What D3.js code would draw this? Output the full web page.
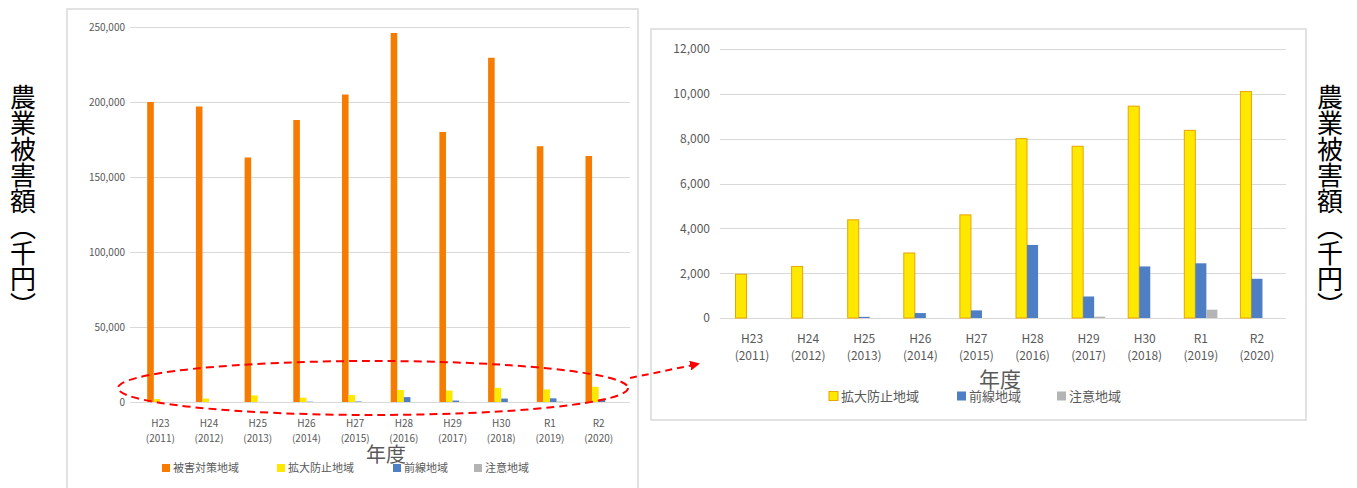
<!DOCTYPE html>
<html>
<head>
<meta charset="utf-8">
<script src="https://cdn.jsdelivr.net/npm/d3@7"></script>
<style>
  body { margin: 0; background: #fff; }
  svg { display: block; font-family: "Noto Sans CJK JP", "Noto Sans", sans-serif; }
</style>
</head>
<body>
<svg id="chart" width="1357" height="488"></svg>
<script>
// data (千円)
var eraLabels = ["H23", "H24", "H25", "H26", "H27", "H28", "H29", "H30", "R1", "R2"];
var yearLabels = ["(2011)", "(2012)", "(2013)", "(2014)", "(2015)", "(2016)", "(2017)", "(2018)", "(2019)", "(2020)"];
var damageArea = [200000, 197000, 163000, 188000, 205000, 246000, 180000, 229500, 170500, 164000];
var expandArea = [1950, 2300, 4380, 2900, 4600, 8000, 7660, 9450, 8370, 10100];
var frontArea = [0, 0, 50, 220, 340, 3260, 960, 2300, 2440, 1750];
var cautionArea = [0, 0, 0, 0, 0, 0, 60, 0, 370, 0];
var leftTicks = [0, 50000, 100000, 150000, 200000, 250000];
var rightTicks = [0, 2000, 4000, 6000, 8000, 10000, 12000];

var seriesNames = ["被害対策地域", "拡大防止地域", "前線地域", "注意地域"];
var colors = {
    "被害対策地域": "#F57C00",
    "拡大防止地域": "#FFE800",
    "前線地域": "#4E7FC4",
    "注意地域": "#B4B4B4"
};
var seriesValues = {
    "被害対策地域": damageArea,
    "拡大防止地域": expandArea,
    "前線地域": frontArea,
    "注意地域": cautionArea
};

var svg = d3.select("#chart");
var fmt = d3.format(",");

function drawPanel(cfg) {
    var g = svg.append("g");

    g.append("rect")
        .attr("x", cfg.box[0]).attr("y", cfg.box[1])
        .attr("width", cfg.box[2]).attr("height", cfg.box[3])
        .attr("fill", "#fff")
        .attr("stroke", "#D9D9D9")
        .attr("stroke-width", 1.5);

    var x0 = d3.scaleBand().domain(eraLabels).range(cfg.xRange)
        .paddingInner(cfg.pad).paddingOuter(cfg.pad / 2);
    var x1 = d3.scaleBand().domain(cfg.series).range([0, x0.bandwidth()]);
    var y = d3.scaleLinear().domain([0, cfg.yMax]).range(cfg.yRange);

    // gridlines
    g.selectAll(".grid")
        .data(cfg.ticks)
        .enter()
        .append("line")
        .attr("x1", cfg.gridX[0]).attr("x2", cfg.gridX[1])
        .attr("y1", function(d) { return Math.round(y(d)) + 0.5; })
        .attr("y2", function(d) { return Math.round(y(d)) + 0.5; })
        .attr("stroke", "#D9D9D9")
        .attr("stroke-width", 1);

    // y tick labels
    var yAxis = d3.axisLeft(y).tickValues(cfg.ticks).tickFormat(fmt).tickSize(0).tickPadding(0);
    var ya = g.append("g")
        .attr("transform", "translate(" + cfg.labelX + ",0)")
        .call(yAxis);
    ya.select(".domain").remove();
    ya.selectAll("text")
        .attr("fill", "#595959")
        .attr("font-size", cfg.tickSize)
        .attr("font-family", "Noto Sans CJK JP");

    // bars
    var groups = g.selectAll(".grp")
        .data(eraLabels)
        .enter()
        .append("g")
        .attr("transform", function(d) { return "translate(" + x0(d) + ",0)"; });

    groups.selectAll("rect")
        .data(function(d, i) {
            return cfg.series.map(function(s) { return { key: s, value: seriesValues[s][i] }; });
        })
        .enter()
        .append("rect")
        .attr("x", function(d) { return x1(d.key); })
        .attr("width", x1.bandwidth())
        .attr("y", function(d) { return y(d.value); })
        .attr("height", function(d) { return y(0) - y(d.value); })
        .attr("fill", function(d) { return colors[d.key]; })
        .attr("stroke", function(d) { return d.key === "拡大防止地域" && cfg.outlineYellow ? "#E8A400" : "none"; })
        .attr("stroke-width", 1);

    // category labels (two lines)
    var xl = g.selectAll(".xl")
        .data(eraLabels)
        .enter()
        .append("text")
        .attr("text-anchor", "middle")
        .attr("fill", "#595959")
        .attr("font-size", cfg.tickSize);
    xl.append("tspan")
        .attr("x", function(d) { return x0(d) + x0.bandwidth() / 2; })
        .attr("y", cfg.xLabelY)
        .text(function(d) { return d; });
    xl.append("tspan")
        .attr("x", function(d) { return x0(d) + x0.bandwidth() / 2; })
        .attr("y", cfg.xLabelY + cfg.lineGap)
        .text(function(d, i) { return yearLabels[i]; });

    // axis title
    g.append("text")
        .attr("x", cfg.titlePos[0]).attr("y", cfg.titlePos[1])
        .attr("text-anchor", "middle")
        .attr("fill", "#595959")
        .attr("font-size", cfg.titleSize)
        .text("年度");

    // legend
    var lg = g.selectAll(".lg")
        .data(cfg.series)
        .enter()
        .append("g")
        .attr("transform", function(d, i) { return "translate(" + cfg.legendX[i] + "," + cfg.legendY + ")"; });
    lg.append("rect")
        .attr("x", 0).attr("y", -cfg.legendBox / 2)
        .attr("width", cfg.legendBox).attr("height", cfg.legendBox)
        .attr("fill", function(d) { return colors[d]; })
        .attr("stroke", function(d) { return d === "拡大防止地域" && cfg.outlineYellow ? "#E8A400" : "none"; });
    lg.append("text")
        .attr("x", cfg.legendBox + 3)
        .attr("dy", "0.35em")
        .attr("fill", "#595959")
        .attr("font-size", cfg.legendSize)
        .text(function(d) { return d; });
}

drawPanel({
    box: [67, 9, 571, 485],
    series: seriesNames,
    xRange: [136, 623],
    gridX: [130, 630],
    yRange: [402, 27],
    yMax: 250000,
    ticks: leftTicks,
    pad: 0.46,
    labelX: 125,
    tickSize: 10,
    xLabelY: 427,
    lineGap: 15,
    titlePos: [386, 462],
    titleSize: 20,
    legendX: [162, 277, 393, 474],
    legendY: 468,
    legendBox: 8,
    legendSize: 11,
    outlineYellow: false
});

drawPanel({
    box: [651, 29, 655, 391],
    series: ["拡大防止地域", "前線地域", "注意地域"],
    xRange: [724, 1285],
    gridX: [720, 1286],
    yRange: [318, 49],
    yMax: 12000,
    ticks: rightTicks,
    pad: 0.41,
    labelX: 710,
    tickSize: 12,
    xLabelY: 343,
    lineGap: 17,
    titlePos: [1000, 387],
    titleSize: 21,
    legendX: [829, 957, 1057],
    legendY: 396,
    legendBox: 9,
    legendSize: 13,
    outlineYellow: true
});

// vertical axis titles
[23, 1330].forEach(function(cx) {
    svg.append("text")
        .attr("x", cx)
        .attr("y", 84)
        .attr("fill", "#000")
        .attr("font-size", 26)
        .attr("font-family", "Noto Sans CJK JP")
        .style("writing-mode", "vertical-rl")
        .text("農業被害額（千円）");
});

// red dashed ellipse and arrow
var defs = svg.append("defs");
defs.append("marker")
    .attr("id", "arr")
    .attr("viewBox", "0 0 10 10")
    .attr("refX", 8).attr("refY", 5)
    .attr("markerWidth", 5).attr("markerHeight", 5)
    .attr("orient", "auto")
    .append("path")
    .attr("d", "M0,0L10,5L0,10z")
    .attr("fill", "#FF0000");

svg.append("ellipse")
    .attr("cx", 373).attr("cy", 388)
    .attr("rx", 255).attr("ry", 27)
    .attr("fill", "none")
    .attr("stroke", "#FF0000")
    .attr("stroke-width", 2)
    .attr("stroke-dasharray", "8,5");

svg.append("line")
    .attr("x1", 630).attr("y1", 378)
    .attr("x2", 698).attr("y2", 364)
    .attr("stroke", "#FF0000")
    .attr("stroke-width", 2)
    .attr("stroke-dasharray", "7,5")
    .attr("marker-end", "url(#arr)");
</script>
</body>
</html>
